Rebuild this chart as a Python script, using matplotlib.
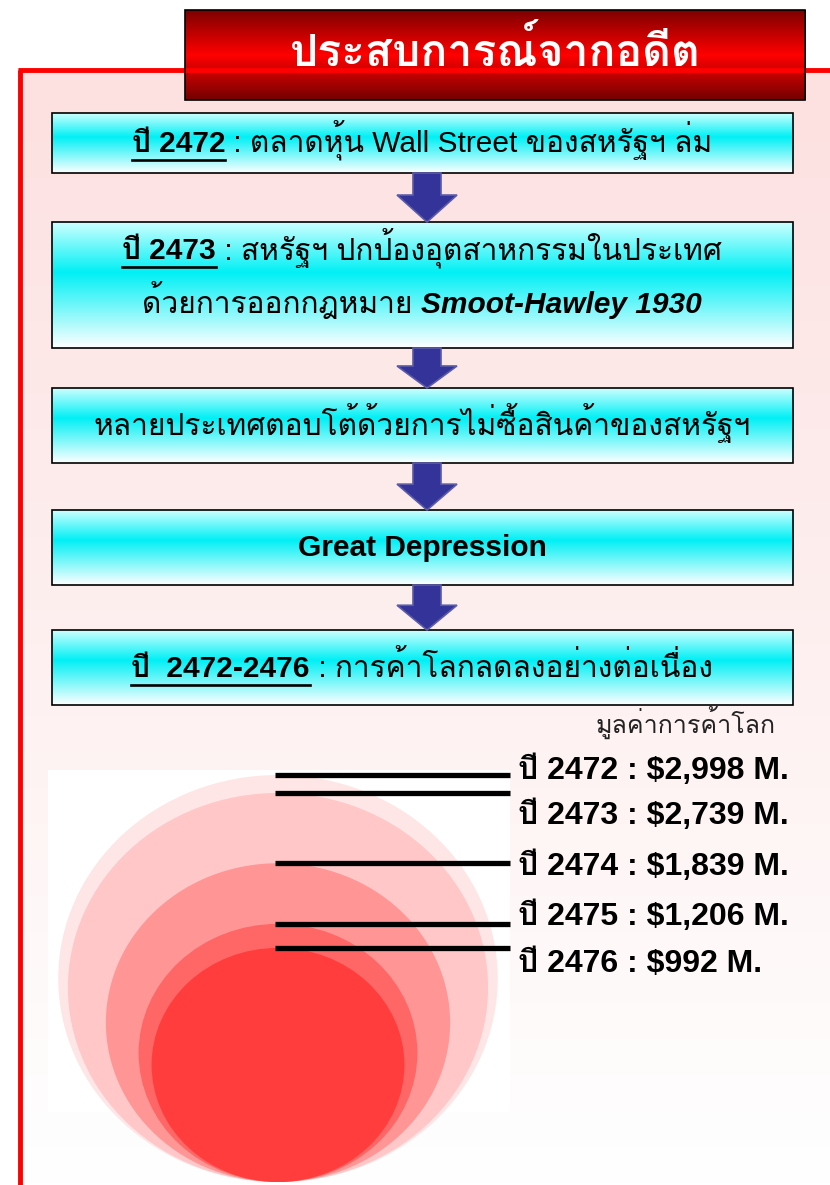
import numpy as np
import matplotlib
matplotlib.use("Agg")
import matplotlib.pyplot as plt
from matplotlib import font_manager
from matplotlib.ft2font import FT2Font
from matplotlib.patches import Rectangle, Ellipse, Polygon

# ---- data ----
years = ["2472", "2473", "2474", "2475", "2476"]
trade_values = [2998, 2739, 1839, 1206, 992]   # world trade, million $
circle_colors = ["#FFE6E6", "#FFC7C7", "#FF9595", "#FF6666", "#FF3D3D"]

title = "ประสบการณ์จากอดีต"
value_caption = "มูลค่าการค้าโลก"

# each step box: list of lines, each line a list of (text, bold, italic, underline)
steps = [
    [[("ปี 2472", True, False, True), (" : ตลาดหุ้น Wall Street ของสหรัฐฯ ล่ม", False, False, False)]],
    [[("ปี 2473", True, False, True), (" : สหรัฐฯ ปกป้องอุตสาหกรรมในประเทศ", False, False, False)],
     [("ด้วยการออกกฎหมาย ", False, False, False), ("Smoot-Hawley 1930", True, True, False)]],
    [[("หลายประเทศตอบโต้ด้วยการไม่ซื้อสินค้าของสหรัฐฯ", False, False, False)]],
    [[("Great Depression", True, False, False)]],
    [[("ปี  2472-2476", True, False, True), (" : การค้าโลกลดลงอย่างต่อเนื่อง", False, False, False)]],
]

# ---- layout (pixels) ----
box_rows = [(113, 173), (222, 348), (388, 463), (510, 585), (630, 705)]
baselines = [[152], [259, 313], [435], [556], [677]]
label_dy = [4, 31, 12, 1, 24]


def find_thai_font():
    for f in font_manager.fontManager.ttflist:
        try:
            if 0x0E1B in FT2Font(f.fname).get_charmap():
                return f.name
        except Exception:
            pass
    return None


thai = find_thai_font()
FAM = ["Liberation Sans"] + ([thai] if thai else []) + ["DejaVu Sans"]


def gradient(ax, x0, x1, y0, y1, stops, clip=None):
    pos = [s[0] for s in stops]
    cols = np.array([s[1] for s in stops]) / 255.0
    t = np.linspace(0, 1, 256)
    img = np.stack([np.interp(t, pos, cols[:, i]) for i in range(3)], axis=-1)[:, None, :]
    im = ax.imshow(img, extent=(x0, x1, y1, y0), origin="upper", aspect="auto",
                   interpolation="bilinear", zorder=1)
    if clip is not None:
        im.set_clip_path(clip)
    return im


fig = plt.figure(figsize=(8.3, 11.85), dpi=100)
ax = fig.add_axes([0, 0, 1, 1])
ax.set_axis_off()

# outer pink panel with red frame
gradient(ax, 18, 830, 68, 1185, [(0, (253, 224, 224)), (1, (255, 255, 255))])
ax.plot([20, 20], [70, 1185], color="#FF0000", lw=3.5, zorder=3, solid_capstyle="butt")
ax.plot([18, 830], [70, 70], color="#FF0000", lw=3.5, zorder=3, solid_capstyle="butt")

# title box
gradient(ax, 185, 805, 10, 100, [(0, (125, 0, 0)), (0.5, (255, 0, 0)), (1, (115, 0, 0))])
ax.add_patch(Rectangle((185, 10), 620, 90, fill=False, ec="black", lw=1.2, zorder=4))
ax.text(495, 52, title, color="white", fontsize=32, fontweight="bold", family=FAM,
        ha="center", va="center", zorder=5)

fig.canvas.draw()
renderer = fig.canvas.get_renderer()


def draw_segments(cx, y, segs, size):
    texts = []
    for s, b, it, ul in segs:
        t = ax.text(0, y, s, fontsize=size, fontweight="bold" if b else "normal",
                    fontstyle="italic" if it else "normal", family=FAM,
                    ha="left", va="baseline", zorder=6)
        texts.append(t)
    widths = [t.get_window_extent(renderer).width for t in texts]
    x = cx - sum(widths) / 2
    for t, w, seg in zip(texts, widths, segs):
        t.set_x(x)
        if seg[3]:
            ax.plot([x, x + w], [y + 8, y + 8], color="black", lw=1.9, zorder=6)
        x += w


cyan_stops = [(0, (205, 255, 255)), (0.4, (0, 240, 245)), (1, (255, 255, 255))]
for (y0, y1), rows, step in zip(box_rows, baselines, steps):
    gradient(ax, 52, 793, y0, y1, cyan_stops)
    ax.add_patch(Rectangle((52, y0), 741, y1 - y0, fill=False, ec="black", lw=1.2, zorder=4))
    for y, segs in zip(rows, step):
        draw_segments(422, y, segs, 21.5)

# arrows between boxes
for (a0, a1), (b0, b1) in zip(box_rows[:-1], box_rows[1:]):
    top, bot = a1, b0
    neck = bot - (bot - top) * 0.55
    pts = [(413, top), (441, top), (441, neck), (457, neck), (427, bot),
           (397, neck), (413, neck)]
    ax.add_patch(Polygon(pts, closed=True, fc="#333399", ec="#5B5BA8", lw=1.2, zorder=5))

ax.text(685, 722, value_caption, fontsize=18, family=FAM, color="#222222",
        ha="center", va="center", zorder=6)

# white picture area and nested circles (area ~ trade value)
ax.add_patch(Rectangle((48, 770), 462, 342, fc="white", ec="none", zorder=2))
bottom, cx = 1182, 278
k = 407 / np.sqrt(trade_values[0])
for i, (yr, v, c) in enumerate(zip(years, trade_values, circle_colors)):
    h = k * np.sqrt(v)
    w = h * 1.08
    ax.add_patch(Ellipse((cx, bottom - h / 2), w, h, fc=c, ec="none", zorder=3 + i * 0.1))
    top = bottom - h
    ax.plot([275, 510], [top, top], color="black", lw=3.8, zorder=7, solid_capstyle="butt")
    ax.text(518, top + label_dy[i], f"ปี {yr} : ${v:,} M.", fontsize=23, fontweight="bold",
            family=FAM, ha="left", va="baseline", zorder=7)

ax.set_xlim(0, 830)
ax.set_ylim(1185, 0)
fig.savefig("out.png", dpi=100)
